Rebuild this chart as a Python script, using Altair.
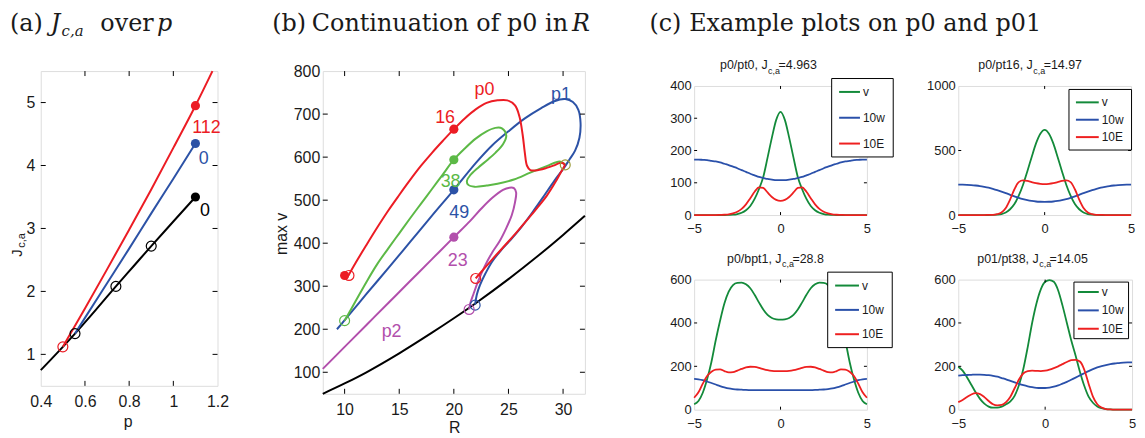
import altair as alt
import pandas as pd

SANS = "Liberation Sans"
NARROW = "Liberation Sans Narrow, Liberation Sans, sans-serif"
SERIF = "DejaVu Serif"
INK = "#1a1a1a"

RED, BLUE, GRN, MAG, OLV, BLK = "#ec1c24", "#2c52a6", "#5cb946", "#b24fac", "#9c9c3a", "#000000"
CG, CB, CR = "#138a3a", "#2a50aa", "#ee2020"

# ---------------- panel (a) data ----------------
a_black_p = [0.4, 0.5, 0.555, 0.65, 0.74, 0.82, 0.9, 1.0, 1.1]
a_black_J = [0.75, 1.12, 1.33, 1.71, 2.08, 2.40, 2.72, 3.11, 3.5]
a_blue_p = [0.555, 0.6, 0.7, 0.8, 0.9, 1.0, 1.1]
a_blue_J = [1.33, 1.58, 2.13, 2.68, 3.24, 3.79, 4.35]
a_red_p = [0.5, 0.6, 0.7, 0.8, 0.9, 1.0, 1.1, 1.177]
a_red_J = [1.12, 1.73, 2.35, 2.98, 3.62, 4.28, 4.95, 5.5]
a_dot_p = [1.1, 1.1, 1.1]
a_dot_J = [4.95, 4.35, 3.5]
a_dot_c = [RED, BLUE, BLK]
a_ring_p = [0.5, 0.555, 0.74, 0.9]
a_ring_J = [1.12, 1.33, 2.08, 2.72]
a_ring_c = [RED, BLK, BLK, BLK]
a_lab_t = ["112", "0", "0"]
a_lab_p = [1.15, 1.137, 1.143]
a_lab_J = [4.59, 4.11, 3.28]
a_lab_c = [RED, BLUE, BLK]

# ---------------- panel (b) data ----------------
b_black_R = [8, 10, 12, 15, 18, 20, 22, 25, 28, 30, 32]
b_black_v = [50, 74, 100, 144, 192, 225.5, 260.5, 316.5, 376.5, 419, 463.5]

b_mag_R = [8, 10, 12, 14, 16, 18, 20, 21.5, 22.5, 23.5, 24.5, 25.1, 25.5, 25.7, 25.6, 25.3, 24.8, 24.2, 23.5,
           22.8, 22.2, 21.8, 21.5, 21.4]
b_mag_v = [108, 159, 210, 261, 312, 363, 414, 452, 480, 505, 524, 529, 528, 518, 495, 465, 435, 405, 378,
           345, 310, 282, 260, 246]

b_blue_R = [9.3, 10, 12, 14, 16, 18, 20, 22, 23.5, 25, 26.5, 28, 29.2, 30.2, 30.9, 31.4, 31.6, 31.5, 31.1,
            30.6, 30.0, 29.2, 28.2, 27.2, 26.2, 25.2, 24.3, 23.5, 22.9, 22.4, 22.1, 21.95]
b_blue_v = [200, 221, 282, 342, 403, 464, 524, 586, 627, 660, 690, 714, 730, 735, 728, 710, 680, 645, 615,
            595, 572, 545, 508, 472, 438, 408, 383, 357, 330, 303, 280, 257]

b_green_R = [10, 11, 12, 13, 14, 15, 16, 17, 18, 19, 20, 21, 22, 23, 23.8, 24.4, 24.8, 24.5, 23.8, 23.1,
             22.2, 21.5, 21.2, 21.3, 21.9, 23.0, 24.0, 25.5, 27.0, 28.5, 29.7, 30.2]
b_green_v = [220, 265, 310, 352, 388, 423, 458, 492, 526, 560, 594, 620, 643, 660, 668, 667, 650, 630, 610,
             594, 575, 558, 545, 536, 531, 534, 538, 548, 564, 579, 590, 583]

b_red_R = [10.35, 11, 12, 13, 14, 15, 16, 17, 18, 19, 20, 21, 22, 23, 24, 24.9, 25.6, 26.0, 26.3, 26.5,
           26.7, 27.0, 27.5, 28.5, 29.2, 29.8, 30.15, 30.1, 29.8, 29.3, 28.5, 27.5, 26.5, 25.5, 24.5, 23.5,
           22.5, 22.0]
b_red_v = [325, 354, 396, 437, 476, 512, 547, 580, 610, 638, 665, 690, 711, 726, 732, 732, 720, 695, 652,
           610, 580, 570, 569, 575, 581, 587, 582, 578, 565, 542, 510, 478, 448, 418, 390, 362, 333, 318]

b_dot_R = [10, 20, 20, 20, 20]
b_dot_v = [325, 665, 594, 524, 414]
b_dot_c = [RED, RED, GRN, BLUE, MAG]
b_ring_R = [10.4, 10, 30.2, 22.0, 21.95, 21.4]
b_ring_v = [325, 220, 582, 318, 256, 246]
b_ring_c = [RED, GRN, OLV, RED, BLUE, MAG]
b_lab_t = ["p0", "16", "p1", "38", "49", "23", "p2"]
b_lab_R = [22.8, 19.2, 29.8, 19.7, 20.5, 20.35, 14.3]
b_lab_v = [756, 691, 745, 542, 471, 358, 194]
b_lab_c = [RED, RED, BLUE, GRN, BLUE, MAG, MAG]

# ---------------- panel (c) data ----------------
c_x = [-5, -4.75, -4.5, -4.25, -4, -3.75, -3.5, -3.25, -3, -2.75, -2.5, -2.25, -2, -1.75, -1.5, -1.25, -1,
       -0.75, -0.5, -0.25, 0, 0.25, 0.5, 0.75, 1, 1.25, 1.5, 1.75, 2, 2.25, 2.5, 2.75, 3, 3.25, 3.5, 3.75,
       4, 4.25, 4.5, 4.75, 5]

tl_v = [0, 0, 0, 0, 0, 0, 0, 0, 0.5, 1, 3, 7, 15, 28, 50, 80, 118, 178, 240, 295, 320, 295, 240, 178, 118,
        80, 50, 28, 15, 7, 3, 1, 0.5, 0, 0, 0, 0, 0, 0, 0, 0]
tl_w = [172, 172, 171, 170, 168, 166, 163, 159, 155, 150, 145, 139, 134, 128, 123, 118, 115, 112, 110, 108,
        108, 108, 110, 112, 115, 118, 123, 128, 134, 139, 145, 150, 155, 159, 163, 166, 168, 170, 171, 172, 172]
tl_e = [0, 0, 0, 0, 0, 0, 0.5, 1, 2, 5, 10, 19, 33, 52, 72, 86, 84, 70, 56, 47, 44, 47, 56, 70, 84, 86, 72,
        52, 33, 19, 10, 5, 2, 1, 0.5, 0, 0, 0, 0, 0, 0]

tr_v = [0, 0, 0, 0, 0, 0, 0, 0, 1, 3, 8, 20, 45, 85, 150, 235, 340, 450, 555, 630, 660, 630, 555, 450, 340,
        235, 150, 85, 45, 20, 8, 3, 1, 0, 0, 0, 0, 0, 0, 0, 0]
tr_w = [235, 235, 234, 232, 229, 225, 219, 212, 203, 193, 182, 170, 157, 145, 133, 123, 115, 109, 105, 103,
        102, 103, 105, 109, 115, 123, 133, 145, 157, 170, 182, 193, 203, 212, 219, 225, 229, 232, 234, 235, 235]
tr_e = [0, 0, 0, 0, 0, 0, 0, 1, 2, 7, 20, 55, 120, 200, 255, 268, 264, 255, 247, 242, 240, 242, 247, 255,
        264, 268, 255, 200, 120, 55, 20, 7, 2, 1, 0, 0, 0, 0, 0, 0, 0]

bl_v = [25, 40, 78, 140, 220, 320, 410, 490, 545, 575, 585, 586, 578, 560, 530, 495, 462, 437, 423, 417, 415,
        417, 423, 437, 462, 495, 530, 560, 578, 586, 585, 575, 545, 490, 410, 320, 220, 140, 78, 40, 25]
bl_w = [142, 140, 136, 130, 123, 116, 109, 103, 98, 95, 93, 92, 91, 90.5, 90, 90, 90, 90, 90, 90, 90, 90, 90,
        90, 90, 90, 90, 90.5, 91, 92, 93, 95, 98, 103, 109, 116, 123, 130, 136, 140, 142]
bl_e = [55, 80, 120, 155, 175, 185, 186, 178, 172, 173, 180, 188, 195, 198, 197, 193, 187, 182, 179, 178, 178,
        178, 179, 182, 187, 193, 197, 198, 195, 188, 180, 173, 172, 178, 186, 185, 175, 155, 120, 80, 55]

br_v = [198, 180, 150, 115, 80, 50, 28, 14, 9, 9, 14, 25, 38, 65, 115, 190, 290, 400, 490, 555, 590, 598, 590,
        550, 480, 400, 320, 250, 175, 110, 60, 32, 15, 7, 3, 1, 0, 0, 0, 0, 0]
br_w = [157, 159, 160, 161, 162, 162, 161, 159, 156, 152, 146, 140, 133, 126, 119, 113, 108, 104, 101, 100,
        100, 102, 106, 112, 120, 128, 138, 148, 158, 168, 178, 187, 195, 201, 206, 210, 213, 215, 217, 218, 218]
br_e = [35, 45, 58, 70, 76, 72, 58, 40, 25, 20, 22, 35, 60, 100, 140, 168, 178, 180, 179, 178, 180, 185, 192,
        200, 210, 220, 228, 230, 222, 185, 120, 60, 25, 10, 3, 1, 0, 0, 0, 0, 0]

series_names = ["v", "10w", "10E"]

ONE = pd.DataFrame({"k": [0]})


def T(text, x, y, size, font=SANS, color=INK, align="left", baseline="alphabetic", angle=0, style="normal"):
    mk = dict(text=text, font=font, fontSize=size, color=color, align=align, baseline=baseline,
              fontStyle=style)
    if angle:
        mk["angle"] = angle
    return alt.Chart(ONE).mark_text(**mk).encode(x=alt.value(x), y=alt.value(y))


def line_df(xs, ys):
    return pd.DataFrame({"x": xs, "y": ys, "i": list(range(len(xs)))})


def pts_df(xs, ys, cs, ts=None):
    d = pd.DataFrame({"x": xs, "y": ys, "c": cs})
    if ts is not None:
        d["t"] = ts
    return d


def inward_ticks(X, Y, xv, yv, w, h, L):
    dx = pd.DataFrame({"x": xv})
    dy = pd.DataFrame({"y": yv})
    out = []
    if xv:
        out.append(alt.Chart(dx).mark_rule(color="black", strokeWidth=1).encode(
            x=X(), y=alt.value(h), y2=alt.value(h - L)))
        out.append(alt.Chart(dx).mark_rule(color="black", strokeWidth=1).encode(
            x=X(), y=alt.value(0), y2=alt.value(L)))
    if yv:
        out.append(alt.Chart(dy).mark_rule(color="black", strokeWidth=1).encode(
            y=Y(), x=alt.value(0), x2=alt.value(L)))
        out.append(alt.Chart(dy).mark_rule(color="black", strokeWidth=1).encode(
            y=Y(), x=alt.value(w), x2=alt.value(w - L)))
    return out


def axis(values, pad, size, fmt=None):
    kw = dict(values=values, title=None, domain=False, ticks=False, grid=False, labelPadding=pad,
              labelFont=SANS, labelFontSize=size, labelColor=INK, labelFlush=False, labelOverlap=False)
    if fmt:
        kw["format"] = fmt
    return alt.Axis(**kw)


TB = -40.5   # title baseline relative to the (a)/(b) plot top

# ---------------- panel (a) ----------------
WA, HA = 178, 317
sxa = alt.Scale(domain=[0.4, 1.2], nice=False, zero=False)
sya = alt.Scale(domain=[0.5, 5.5], nice=False, zero=False)
axa_x = axis([0.4, 0.6, 0.8, 1.0, 1.2], 8, 16, ".1~f")
axa_y = axis([1, 2, 3, 4, 5], 6, 16)
XA = lambda: alt.X("x:Q", scale=sxa, axis=axa_x)
YA = lambda: alt.Y("y:Q", scale=sya, axis=axa_y)

la = []
for xs, ys, col in [(a_black_p, a_black_J, BLK), (a_blue_p, a_blue_J, BLUE), (a_red_p, a_red_J, RED)]:
    la.append(alt.Chart(line_df(xs, ys)).mark_line(color=col, strokeWidth=2, interpolate="monotone").encode(
        x=XA(), y=YA(), order="i:Q"))
la.append(alt.Chart(pts_df(a_ring_p, a_ring_J, a_ring_c)).mark_point(filled=False, size=100, strokeWidth=1.2,
                                                                       opacity=1).encode(
    x=XA(), y=YA(), color=alt.Color("c:N", scale=None)))
la.append(alt.Chart(pts_df(a_dot_p, a_dot_J, a_dot_c)).mark_point(filled=True, size=85, opacity=1).encode(
    x=XA(), y=YA(), color=alt.Color("c:N", scale=None)))
la.append(alt.Chart(pts_df(a_lab_p, a_lab_J, a_lab_c, a_lab_t)).mark_text(
    font=NARROW, fontSize=18, align="center", baseline="middle").encode(
    x=XA(), y=YA(), text="t:N", color=alt.Color("c:N", scale=None)))
la += inward_ticks(XA, YA, [0.6, 0.8, 1.0], [1, 2, 3, 4, 5], WA, HA, 5)
la += [
    T("(a)", -31, TB, 24, font=SERIF),
    T("J", 10, TB, 24, font=SERIF, style="italic"),
    T("c,a", 21, TB + 5, 15, font=SERIF, style="italic"),
    T("over", 60, TB, 24, font=SERIF),
    T("p", 117, TB, 24, font=SERIF, style="italic"),
    T("p", 88, 358, 16, align="center"),
    T("J", -19, 187, 15, angle=270),
    T("c,a", -16, 178, 11, angle=270),
]
panel_a = alt.layer(*la).properties(width=WA, height=HA)

# ---------------- panel (b) ----------------
WB, HB = 264, 325
sxb = alt.Scale(domain=[8, 32], nice=False, zero=False)
syb = alt.Scale(domain=[50, 800], nice=False, zero=False)
axb_x = axis([10, 15, 20, 25, 30], 8, 16)
axb_y = axis([100, 200, 300, 400, 500, 600, 700, 800], 3, 16)
XB = lambda: alt.X("x:Q", scale=sxb, axis=axb_x)
YB = lambda: alt.Y("y:Q", scale=syb, axis=axb_y)

lb = []
for xs, ys, col in [(b_black_R, b_black_v, BLK), (b_mag_R, b_mag_v, MAG), (b_blue_R, b_blue_v, BLUE),
                    (b_green_R, b_green_v, GRN), (b_red_R, b_red_v, RED)]:
    lb.append(alt.Chart(line_df(xs, ys)).mark_line(color=col, strokeWidth=2, interpolate="catmull-rom").encode(
        x=XB(), y=YB(), order="i:Q"))
lb.append(alt.Chart(pts_df(b_ring_R, b_ring_v, b_ring_c)).mark_point(filled=False, size=100, strokeWidth=1.2,
                                                                      opacity=1).encode(
    x=XB(), y=YB(), color=alt.Color("c:N", scale=None)))
lb.append(alt.Chart(pts_df(b_dot_R, b_dot_v, b_dot_c)).mark_point(filled=True, size=85, opacity=1).encode(
    x=XB(), y=YB(), color=alt.Color("c:N", scale=None)))
lb.append(alt.Chart(pts_df(b_lab_R, b_lab_v, b_lab_c, b_lab_t)).mark_text(
    font=NARROW, fontSize=18, align="center", baseline="middle").encode(
    x=XB(), y=YB(), text="t:N", color=alt.Color("c:N", scale=None)))
lb += inward_ticks(XB, YB, [10, 15, 20, 25, 30], [100, 200, 300, 400, 500, 600, 700], WB, HB, 5)
lb += [
    T("(b)", -51, TB, 24, font=SERIF),
    T("Continuation of p0 in", -11, TB, 24, font=SERIF),
    T("R", 251, TB, 24, font=SERIF, style="italic"),
    T("R", 133, 364, 16, align="center"),
    T("max v", -36, 164, 16, align="center", angle=270),
]
panel_b = alt.layer(*lb).properties(width=WB, height=HB)


# ---------------- panel (c) ----------------
def cpanel(v, w, e, ydom, yvals, width, height, leg, tparts, extra=None):
    df = pd.DataFrame({"x": c_x * 3, "y": v + w + e,
                       "s": [series_names[0]] * len(v) + [series_names[1]] * len(w) + [series_names[2]] * len(e)})
    sx = alt.Scale(domain=[-5, 5], nice=False, zero=False)
    sy = alt.Scale(domain=ydom, nice=False, zero=False)
    axx = axis([-5, 0, 5], 7.5, 13)
    axy = axis(yvals, 3, 13, "d")
    X = lambda: alt.X("x:Q", scale=sx, axis=axx)
    Y = lambda: alt.Y("y:Q", scale=sy, axis=axy)
    lx, ly, rp, pad, path, loff = leg
    lines = alt.Chart(df).mark_line(strokeWidth=1.8, interpolate="monotone").encode(
        x=X(), y=Y(),
        color=alt.Color("s:N", sort=series_names,
                        scale=alt.Scale(domain=series_names, range=[CG, CB, CR]),
                        legend=alt.Legend(title=None, orient="none", legendX=lx, legendY=ly,
                                          symbolType=path, symbolSize=144, symbolStrokeWidth=2,
                                          labelFont=SANS, labelFontSize=12, labelColor=INK,
                                          labelOffset=loff, rowPadding=rp, padding=pad,
                                          strokeColor="black", fillColor="white")))
    layers = [lines]
    layers += inward_ticks(X, Y, [0], [yy for yy in yvals if ydom[0] < yy < ydom[1]], width, height, 3)
    main, jx, sub = tparts
    layers += [
        T(main, jx, -17, 12.5, align="right"),
        T("c,a", jx + 0.5, -12.5, 9),
        T(sub, jx + 11, -17, 12.5),
    ]
    if extra:
        layers += extra
    return alt.layer(*layers).properties(width=width, height=height)


tl = cpanel(tl_v, tl_w, tl_e, [0, 400], [0, 100, 200, 300, 400], 174, 130,
            (138, -8, 13, 7, "M-1,0H2.5", 11), ("p0/pt0, J", 74, "=4.963"),
            extra=[T("(c)", -45, TB - 15, 24, font=SERIF),
                   T("Example plots on p0 and p01", -5, TB - 15, 24, font=SERIF)])
tr = cpanel(tr_v, tr_w, tr_e, [0, 1000], [0, 500, 1000], 174, 130,
            (111, 3, 4.5, 6.5, "M-1,0H2.83", 13), ("p0/pt16, J", 75, "=14.97"))
bl = cpanel(bl_v, bl_w, bl_e, [0, 600], [0, 200, 400, 600], 174, 131,
            (134, -8, 11.5, 7, "M-1,0H3", 14), ("p0/bpt1, J", 88, "=28.8"))
br = cpanel(br_v, br_w, br_e, [0, 600], [0, 200, 400, 600], 175, 131,
            (116, 2, 5.5, 3.5, "M-1,0H2.5", 11), ("p01/pt38, J", 81, "=14.05"))

spacer = alt.Chart(ONE).mark_point(opacity=0).encode(x=alt.value(0), y=alt.value(0)).properties(
    width=10, height=15, view=alt.ViewBackground(stroke="transparent"))

grid = alt.concat(tl, tr, bl, br, columns=2, spacing={"row": 65, "column": 92},
                  bounds="flush").resolve_scale(color="independent")
cblock = alt.vconcat(spacer, grid, spacing=0, bounds="flush").resolve_scale(color="independent")
right = alt.hconcat(panel_b, cblock, spacing=110, bounds="flush").resolve_scale(color="independent")
chart = alt.hconcat(panel_a, right, spacing=106, bounds="flush").resolve_scale(color="independent")
chart = chart.properties(padding={"left": 1, "top": 2, "right": 0, "bottom": 0}).configure_view(
    stroke="black", strokeWidth=1).configure(background="white")

chart.save("out.html", embed_options={"renderer": "svg", "actions": False})
